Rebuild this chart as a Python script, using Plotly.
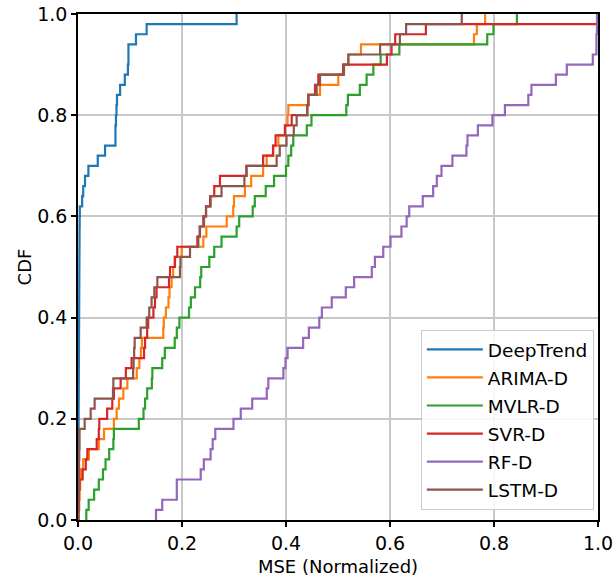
import numpy as np
import plotly.graph_objects as go

series_names = ["DeepTrend", "ARIMA-D", "MVLR-D", "SVR-D", "RF-D", "LSTM-D"]
series_colors = ["#1f77b4", "#ff7f0e", "#2ca02c", "#d62728", "#9467bd", "#8c564b"]

deeptrend = [0.0002, 0.0003, 0.0004, 0.0005, 0.0006, 0.0007, 0.0008, 0.0009, 0.0010, 0.0011,
             0.0012, 0.0013, 0.0014, 0.0015, 0.0016, 0.0017, 0.0018, 0.0019, 0.0020, 0.0021,
             0.0022, 0.0023, 0.0024, 0.0025, 0.0026, 0.0027, 0.0028, 0.0029, 0.0030, 0.0032,
             0.0035, 0.008, 0.010, 0.0135, 0.020, 0.038, 0.052, 0.072, 0.072, 0.073,
             0.074, 0.075, 0.081, 0.090, 0.096, 0.097, 0.097, 0.1115, 0.132, 0.305]

arima_d = [0.001, 0.002, 0.003, 0.004, 0.006, 0.010, 0.021, 0.040, 0.050, 0.069,
           0.0744, 0.0788, 0.0872, 0.0949, 0.113, 0.118, 0.121, 0.123, 0.164, 0.165,
           0.169, 0.174, 0.176, 0.180, 0.183, 0.186, 0.1994, 0.241, 0.2468, 0.286,
           0.2985, 0.300, 0.321, 0.333, 0.356, 0.3628, 0.3756, 0.3853, 0.398, 0.403,
           0.4045, 0.4429, 0.4654, 0.5006, 0.510, 0.520, 0.5442, 0.7615, 0.767, 0.783]

mvlr_d = [0.016, 0.0205, 0.031, 0.040, 0.048, 0.053, 0.060, 0.068, 0.069, 0.117,
          0.126, 0.129, 0.133, 0.142, 0.143, 0.162, 0.167, 0.186, 0.190, 0.195,
          0.2135, 0.217, 0.225, 0.235, 0.237, 0.2525, 0.262, 0.276, 0.305, 0.310,
          0.336, 0.340, 0.361, 0.377, 0.400, 0.4045, 0.410, 0.414, 0.440, 0.449,
          0.516, 0.519, 0.542, 0.555, 0.568, 0.582, 0.618, 0.787, 0.799, 0.844]

svr_d = [0.001, 0.002, 0.002, 0.003, 0.009, 0.015, 0.018, 0.036, 0.040, 0.041,
         0.056, 0.066, 0.069, 0.082, 0.092, 0.103, 0.127, 0.129, 0.133, 0.135,
         0.145, 0.148, 0.151, 0.175, 0.177, 0.1865, 0.191, 0.2295, 0.2346, 0.241,
         0.2462, 0.254, 0.262, 0.273, 0.324, 0.356, 0.375, 0.380, 0.398, 0.411,
         0.441, 0.443, 0.4558, 0.4622, 0.510, 0.594, 0.603, 0.610, 0.669, 1.100]

rf_d = [0.150, 0.162, 0.190, 0.190, 0.236, 0.242, 0.255, 0.259, 0.264, 0.299,
        0.313, 0.335, 0.363, 0.366, 0.395, 0.399, 0.403, 0.433, 0.444, 0.464,
        0.469, 0.488, 0.515, 0.531, 0.565, 0.571, 0.587, 0.601, 0.622, 0.632,
        0.637, 0.663, 0.683, 0.690, 0.699, 0.720, 0.747, 0.749, 0.769, 0.797,
        0.821, 0.866, 0.872, 0.919, 0.940, 0.990, 0.997, 0.997, 0.998, 0.998]

lstm_d = [0.0005, 0.001, 0.001, 0.0015, 0.002, 0.002, 0.0025, 0.003, 0.003, 0.0128,
          0.0244, 0.032, 0.0673, 0.068, 0.106, 0.107, 0.108, 0.109, 0.1205, 0.132,
          0.137, 0.1415, 0.1468, 0.1526, 0.196, 0.197, 0.2154, 0.2314, 0.234, 0.2423,
          0.2462, 0.255, 0.276, 0.320, 0.324, 0.382, 0.388, 0.401, 0.415, 0.4205,
          0.441, 0.443, 0.459, 0.4654, 0.5115, 0.5199, 0.581, 0.619, 0.631, 0.738]

tick_vals = [0.0, 0.2, 0.4, 0.6, 0.8, 1.0]
tick_text = ["0.0", "0.2", "0.4", "0.6", "0.8", "1.0"]

all_series = [deeptrend, arima_d, mvlr_d, svr_d, rf_d, lstm_d]

fig = go.Figure()
for name, vals, color in zip(series_names, all_series, series_colors):
    v = np.sort(np.asarray(vals, dtype=float))
    n = len(v)
    x = np.concatenate([[v[0]], v])
    y = np.concatenate([[0.0], np.arange(1, n + 1) / n])
    fig.add_trace(go.Scatter(
        x=x, y=y, mode="lines", name=name, legendgroup=name,
        line=dict(shape="hv", color=color, width=2.2),
    ))

font_family = "DejaVu Sans"
axis_common = dict(
    range=[0, 1], tickvals=tick_vals, ticktext=tick_text, automargin=False,
    ticklabeloverflow="allow",
    showline=True, mirror=True, linecolor="black", linewidth=1.5,
    ticks="outside", ticklen=5, tickwidth=1.5, tickcolor="black",
    showgrid=True, gridcolor="#c8c8c8", gridwidth=1.5, zeroline=False,
    tickfont=dict(family=font_family, size=19, color="black"),
)

fig.update_layout(
    width=616, height=577,
    margin=dict(l=78, r=18, t=14, b=57),
    paper_bgcolor="white", plot_bgcolor="white",
    font=dict(family=font_family, color="black"),
    xaxis=dict(axis_common, title=dict(text="MSE (Normalized)", font=dict(size=18), standoff=8)),
    yaxis=dict(axis_common, title=dict(text="CDF", font=dict(size=18), standoff=1)),
    legend=dict(
        x=0.992, xanchor="right", y=0.02, yanchor="bottom",
        font=dict(family=font_family, size=18.5, color="black"),
        bgcolor="rgba(255,255,255,0.85)", bordercolor="#cccccc", borderwidth=1,
        tracegroupgap=1, itemwidth=56,
    ),
    showlegend=True,
)

# remove the browser's default 8px body margin so the figure fills the window exactly
fig.write_html(
    "out.html",
    config={"displayModeBar": False},
    post_script="document.body.style.margin='0px';document.body.style.overflow='hidden';",
)
